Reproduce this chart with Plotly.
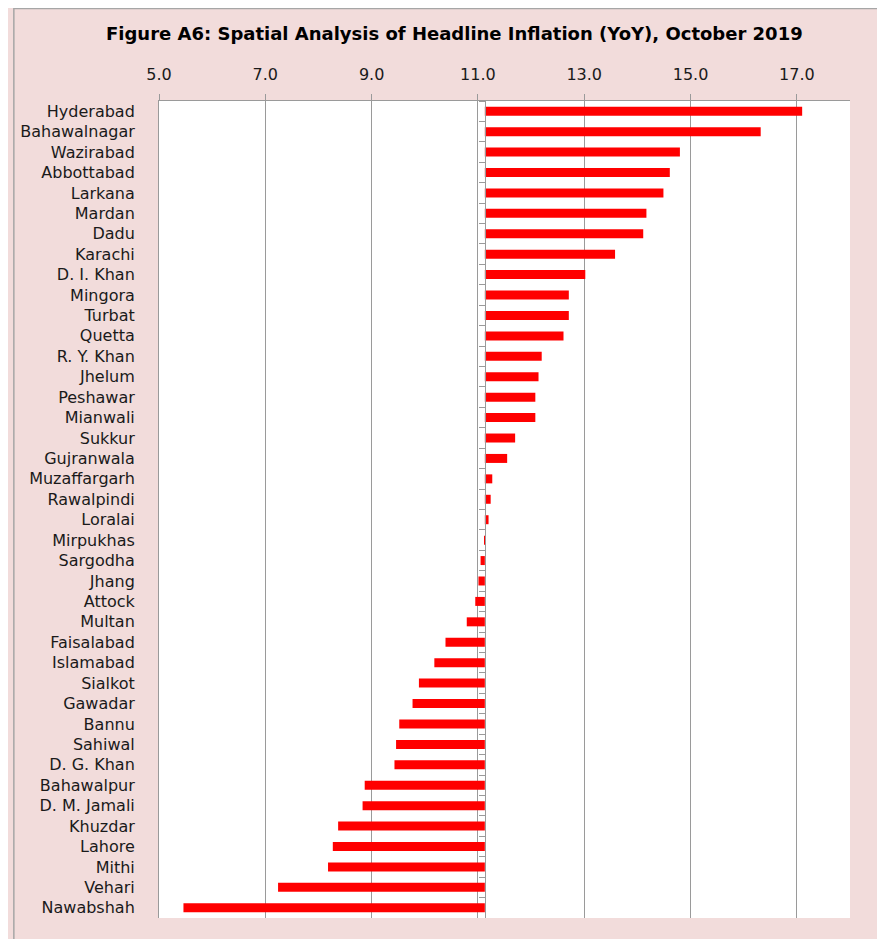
import plotly.graph_objects as go

cities = ["Hyderabad", "Bahawalnagar", "Wazirabad", "Abbottabad", "Larkana", "Mardan",
          "Dadu", "Karachi", "D. I. Khan", "Mingora", "Turbat", "Quetta", "R. Y. Khan",
          "Jhelum", "Peshawar", "Mianwali", "Sukkur", "Gujranwala", "Muzaffargarh",
          "Rawalpindi", "Loralai", "Mirpukhas", "Sargodha", "Jhang", "Attock", "Multan",
          "Faisalabad", "Islamabad", "Sialkot", "Gawadar", "Bannu", "Sahiwal", "D. G. Khan",
          "Bahawalpur", "D. M. Jamali", "Khuzdar", "Lahore", "Mithi", "Vehari", "Nawabshah"]

inflation = [17.10, 16.32, 14.80, 14.61, 14.49, 14.17, 14.11, 13.58, 13.02, 12.71,
             12.71, 12.61, 12.20, 12.14, 12.08, 12.08, 11.70, 11.55, 11.27, 11.24,
             11.20, 11.14, 11.05, 11.01, 10.95, 10.79, 10.39, 10.18, 9.89, 9.77,
             9.52, 9.46, 9.43, 8.87, 8.83, 8.37, 8.27, 8.18, 7.24, 5.46]

base_value = 11.13
x_ticks = [5.0, 7.0, 9.0, 11.0, 13.0, 15.0, 17.0]
x_range = [5.0, 18.0]

# page has an 8px body margin, so the figure starts at (8, 8)
W, H = 877, 931
L, R, T, B = 147, 35, 93, 21
PW, PH = W - L - R, H - T - B


def fx(px):
    return (px - L) / PW


def fy(py):
    return (H - B - py) / PH


PINK = "#F2DCDB"
GRID = "#9A9A9A"
FONT = "DejaVu Sans"

fig = go.Figure()
fig.add_trace(go.Bar(
    y=cities,
    x=[v - base_value for v in inflation],
    base=base_value,
    orientation="h",
    marker=dict(color="#FF0000", line=dict(width=0)),
    width=0.44,
    hoverinfo="skip",
    showlegend=False,
))
# invisible trace carrying the crossing axis
fig.add_trace(go.Scatter(
    y=cities, x=[base_value] * len(cities), yaxis="y2", mode="markers",
    marker=dict(opacity=0), hoverinfo="skip", showlegend=False,
))

n = len(cities)
fig.update_layout(
    width=W, height=H,
    margin=dict(l=L, r=R, t=T, b=B, pad=0),
    paper_bgcolor=PINK,
    plot_bgcolor="white",
    font=dict(family=FONT, size=16, color="#1a1a1a"),
    xaxis=dict(
        side="top", range=x_range, tickvals=x_ticks,
        ticktext=[f"{v:.1f}" for v in x_ticks],
        showgrid=True, gridcolor=GRID, gridwidth=1,
        ticks="outside", ticklen=6, tickcolor=GRID, tickwidth=1,
        showline=True, linecolor=GRID, linewidth=1,
        zeroline=False, ticklabelstandoff=8,
        tickfont=dict(family=FONT, size=16, color="#1a1a1a"),
    ),
    yaxis=dict(
        type="category", categoryorder="array", categoryarray=cities,
        range=[n - 0.5, -0.5], showgrid=False, showline=True, linecolor=GRID, linewidth=1,
        ticks="", ticklabelstandoff=20, zeroline=False,
        tickfont=dict(family=FONT, size=16, color="#1a1a1a"),
    ),
    yaxis2=dict(
        type="category", categoryorder="array", categoryarray=cities,
        range=[n - 0.5, -0.5], overlaying="y", anchor="free",
        position=(base_value - x_range[0]) / (x_range[1] - x_range[0]),
        side="left", showgrid=False, showline=True, linecolor=GRID, linewidth=1,
        ticks="outside", ticklen=6, tickcolor=GRID, tickwidth=1,
        tickson="boundaries", showticklabels=False, zeroline=False,
    ),
    shapes=[
        dict(type="line", xref="paper", yref="paper", x0=fx(1), x1=fx(1), y0=fy(H + 5), y1=fy(0),
             line=dict(color="#A6A6A6", width=1.5)),
        dict(type="line", xref="paper", yref="paper", x0=fx(1), x1=fx(W + 5), y0=fy(0.5), y1=fy(0.5),
             line=dict(color="#A6A6A6", width=1.5)),
    ],
    annotations=[
        dict(text="<b>Figure A6: Spatial Analysis of Headline Inflation (YoY), October 2019</b>",
             xref="paper", yref="paper", x=fx(444), y=fy(26), xanchor="center", yanchor="middle",
             showarrow=False, font=dict(family=FONT, size=18, color="black")),
    ],
)

fig.write_html("out.html")
